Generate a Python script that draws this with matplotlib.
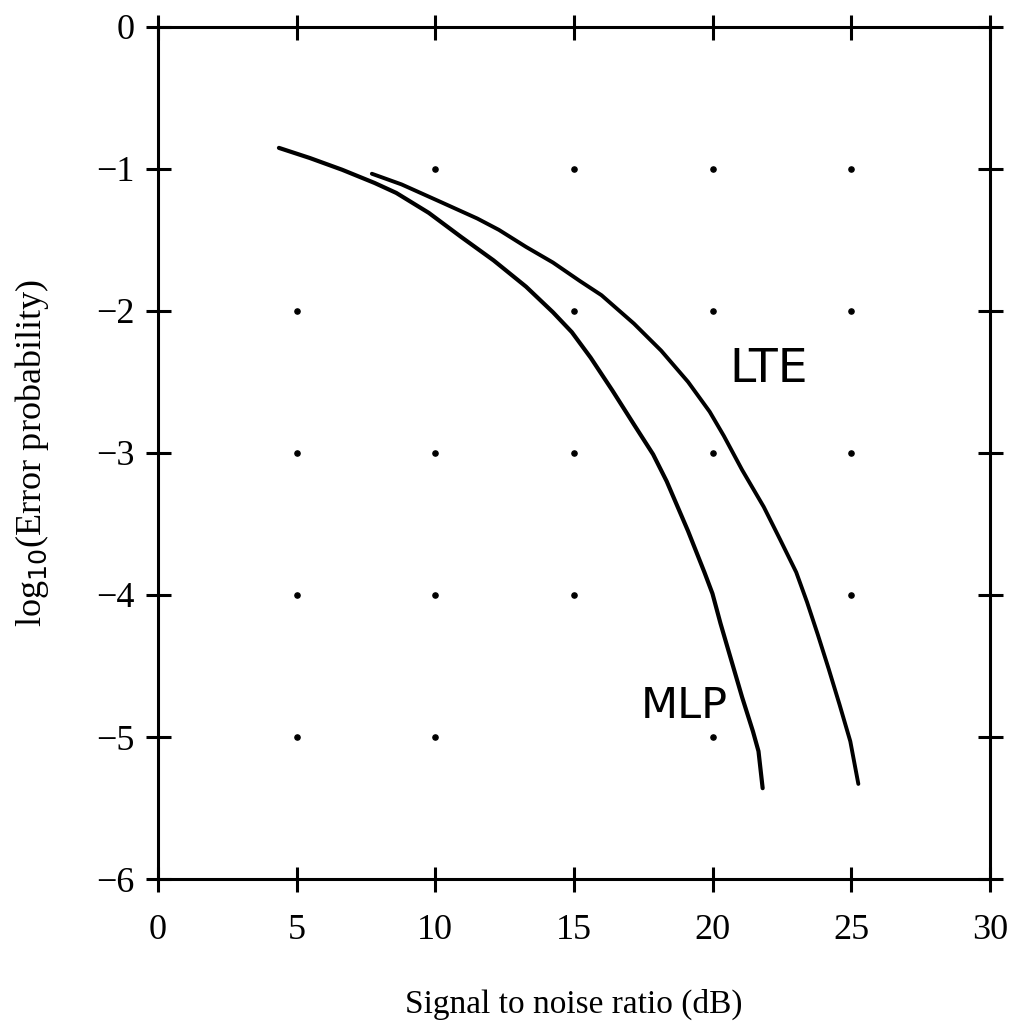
import matplotlib
matplotlib.use("Agg")
import matplotlib.pyplot as plt

# MLP curve (SNR dB, log10 error probability)
mlp_x = [4.36, 5.47, 6.64, 7.81, 8.59, 9.76, 10.93, 12.10, 13.27, 14.24, 14.92, 15.60,
         16.38, 17.16, 17.85, 18.34, 19.11, 19.70, 19.99, 20.28, 20.67, 21.06, 21.45,
         21.65, 21.80]
mlp_y = [-0.853, -0.924, -1.007, -1.10, -1.17, -1.31, -1.48, -1.645, -1.83, -2.01, -2.15,
         -2.33, -2.56, -2.80, -3.01, -3.20, -3.55, -3.84, -3.99, -4.20, -4.46, -4.72,
         -4.96, -5.10, -5.36]

# LTE curve
lte_x = [7.71, 8.78, 10.15, 11.51, 12.29, 13.27, 14.24, 15.21, 15.99, 17.16, 18.14,
         19.11, 19.89, 20.40, 21.06, 21.84, 22.43, 23.01, 23.40, 23.79, 24.18, 24.57,
         24.96, 25.25]
lte_y = [-1.035, -1.11, -1.23, -1.35, -1.43, -1.55, -1.66, -1.79, -1.89, -2.09, -2.28,
         -2.50, -2.71, -2.88, -3.12, -3.38, -3.61, -3.84, -4.05, -4.28, -4.52, -4.77,
         -5.03, -5.33]

# grid dots present in the figure
dot_x = [10, 15, 20, 25, 5, 15, 20, 25, 5, 10, 15, 20, 25, 5, 10, 15, 25, 5, 10, 20]
dot_y = [-1, -1, -1, -1, -2, -2, -2, -2, -3, -3, -3, -3, -3, -4, -4, -4, -4, -5, -5, -5]

x_ticks = [0, 5, 10, 15, 20, 25, 30]
y_ticks = [0, -1, -2, -3, -4, -5, -6]
y_tick_labels = ["0", "\u22121", "\u22122", "\u22123", "\u22124", "\u22125", "\u22126"]

fig = plt.figure(figsize=(10.26, 10.27), dpi=100)
ax = fig.add_axes([0.154, 0.144, 0.811, 0.830])

ax.plot(mlp_x, mlp_y, color="black", lw=3.0, solid_capstyle="round", solid_joinstyle="round")
ax.plot(lte_x, lte_y, color="black", lw=2.8, solid_capstyle="round", solid_joinstyle="round")
ax.scatter(dot_x, dot_y, s=14, color="black", zorder=3)

hand = ["Liberation Sans Narrow", "DejaVu Sans"]
ax.text(22.03, -2.415, "LTE", fontsize=34, family=hand, ha="center", va="center")
ax.text(18.97, -4.78, "MLP", fontsize=31, family=hand, ha="center", va="center")

ax.set_xlim(0, 30)
ax.set_ylim(-6, 0)
ax.set_xticks(x_ticks)
ax.set_yticks(y_ticks)
ax.set_yticklabels(y_tick_labels)

serif = "Liberation Serif"
for lab in ax.get_xticklabels() + ax.get_yticklabels():
    lab.set_family(serif)
    lab.set_fontsize(26)

ax.tick_params(axis="both", which="both", direction="inout", length=18, width=2.2,
               top=True, right=True, color="black")
ax.tick_params(axis="x", pad=16)
ax.tick_params(axis="y", pad=8)
for sp in ax.spines.values():
    sp.set_linewidth(2.2)

ax.set_xlabel("Signal to noise ratio (dB)", family=serif, fontsize=24, labelpad=30)
ax.set_ylabel("log$_{10}$(Error probability)", family=serif, fontsize=26, labelpad=32)

fig.savefig("out.png", dpi=100)
